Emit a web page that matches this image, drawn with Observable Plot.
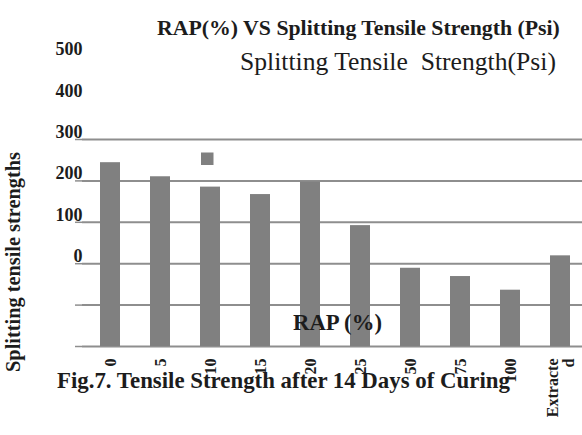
<!DOCTYPE html>
<html>
<head>
<meta charset="utf-8">
<script src="https://cdn.jsdelivr.net/npm/d3@7"></script>
<script src="https://cdn.jsdelivr.net/npm/@observablehq/plot@0.6"></script>
<style>
  html, body { margin: 0; padding: 0; background: #fff; }
  #chart { width: 582px; height: 435px; overflow: hidden; }
</style>
</head>
<body>
<div id="chart"></div>
<script>
// ---- data ----
const rapCategories = ["0", "5", "10", "15", "20", "25", "50", "75", "100", "Extracted"];
const tensileStrength = [444, 410, 385, 367, 397, 292, 189, 169, 136, 219];
const yTickValues = [0, 100, 200, 300, 400, 500];

const titleText = "RAP(%) VS Splitting Tensile Strength (Psi)";
const seriesName = "Splitting Tensile  Strength(Psi)";
const yAxisTitle = "Splitting tensile strengths";
const xAxisTitle = "RAP (%)";
const captionText = "Fig.7. Tensile Strength after 14 Days of Curing";

const data = rapCategories.map((c, i) => ({rap: c, strength: tensileStrength[i]}));

const serif = "Liberation Serif";
const gray = "#808080";
const gridGray = "#8e8e8e";
const ink = "#1c1c1c";

const svg = Plot.plot({
  width: 582,
  height: 435,
  marginTop: 139,
  marginBottom: 89,
  marginLeft: 82,
  marginRight: 0,
  style: {fontFamily: serif, background: "#fff", color: ink},
  x: {domain: rapCategories, range: [82, 587], paddingInner: 0.6, paddingOuter: 0.29, label: null},
  y: {domain: [0, 500], label: null},
  marks: [
    Plot.gridY(yTickValues, {stroke: gridGray, strokeOpacity: 1, strokeWidth: 2}),
    Plot.axisY(yTickValues, {tickSize: 7, tickFormat: () => "", stroke: gridGray, strokeWidth: 1.5, label: null}),
    Plot.ruleX([0], {x: () => 82, y1: 0, y2: 500, stroke: gridGray, strokeWidth: 1.5}),
    Plot.barY(data, {x: "rap", y: "strength", fill: gray}),
    Plot.axisY(yTickValues, {
      tickSize: 0, tickPadding: 0, dy: -90, fontSize: 18, fontWeight: "bold",
      fill: ink, label: null, fontFamily: serif
    }),
    Plot.axisX({
      tickSize: 0, tickPadding: 12, tickRotate: -90, fontSize: 16, fontWeight: "bold",
      fill: ink, label: null, fontFamily: serif,
      tickFormat: d => d.length > 8 ? d.slice(0, 8) + "\n" + d.slice(8) : d
    })
  ]
});

document.getElementById("chart").appendChild(svg);

// ---- annotations (title, legend, axis titles, caption) ----
const s = d3.select(svg);
const ann = s.append("g")
  .attr("fill", ink)
  .attr("text-anchor", "start");

// add a text and scale its font size so that it spans the width seen in the reference
function addText(txt, x, y, size, bold, length, anchor, transform) {
  const t = ann.append("text")
    .attr("font-family", serif)
    .attr("font-size", size)
    .attr("font-weight", bold ? "bold" : "normal")
    .attr("text-anchor", anchor || "start")
    .style("white-space", "pre")
    .text(txt);
  if (transform) t.attr("transform", transform);
  else t.attr("x", x).attr("y", y);
  const w = t.node().getComputedTextLength();
  if (w > 0) t.attr("font-size", (size * length / w).toFixed(2));
  return t;
}

addText(titleText, 157, 35, 19, true, 403);
addText(seriesName, 240, 70, 23, false, 316);

// legend swatch
ann.append("rect")
  .attr("x", 201).attr("y", 152.5).attr("width", 12.5).attr("height", 12.5)
  .attr("fill", gray);

addText(yAxisTitle, 0, 0, 16, true, 220, "middle", "translate(20,262) rotate(-90)");
addText(xAxisTitle, 293, 330, 18, true, 89);
addText(captionText, 57, 388, 21, true, 453);
</script>
</body>
</html>
